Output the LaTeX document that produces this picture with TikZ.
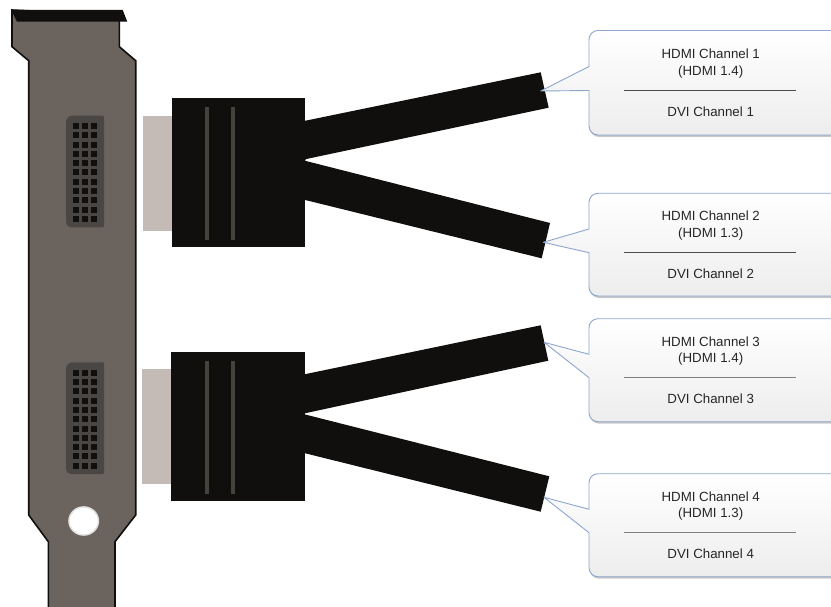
\documentclass[tikz,border=0pt]{standalone}
\usepackage{fontspec}
\setmainfont{Liberation Sans}
\definecolor{ink}{HTML}{100F0D}
\definecolor{plate}{HTML}{6B635D}
\definecolor{socketc}{HTML}{4A4643}
\definecolor{plugc}{HTML}{C4BBB6}
\definecolor{stripec}{HTML}{45423C}
\definecolor{calloutb}{HTML}{8CA6CF}
\definecolor{shadowc}{HTML}{B5B5B5}
\tikzset{
  x=1pt,y=-1pt,
  plate outline/.style={fill=plate,draw=ink,line width=1.6pt,line join=miter},
  top bar/.style={fill=ink,draw=none},
  socket body/.style={fill=socketc,draw=none},
  pin/.style={fill=ink,draw=none},
  plug/.style={fill=plugc,draw=none},
  shell/.style={fill=ink,draw=none},
  stripe/.style={fill=stripec,draw=none},
  cable/.style={fill=ink,draw=none},
  callout fill/.style={top color=white,bottom color=black!7,draw=calloutb,line width=0.9pt,line join=round},
  callout shadow/.style={fill=shadowc,draw=none,opacity=.75},
  label text/.style={font=\fontsize{13.3}{15}\selectfont,text=black!85,inner sep=0pt,anchor=center},
  divider/.style={line width=0.8pt},
}
\newcommand{\mydivcol}{black!70}
% top, bottom, wedge y1, wedge y2, tip x, tip y, channel, hdmi version, divider y
\newcommand{\mycallout}[9]{%
  \fill[callout shadow,rounded corners=9pt] (850,#1+2) -- (590,#1+2) -- (590,#2+2) -- (850,#2+2) -- cycle;
  \coordinate (tip#7) at (#5,#6);
  \path[callout fill] [rounded corners=9pt] (850,#1) -- (589,#1) [sharp corners] -- (589,#3) -- (tip#7) -- (589,#4) [rounded corners=9pt] -- (589,#2) -- (850,#2) [sharp corners] -- cycle;
  \coordinate (divl#7) at (624,#9);
  \coordinate (divr#7) at (796,#9);
  \draw[divider,draw=\mydivcol] (divl#7) -- (divr#7);
  \node[label text] (hdmi#7) at (710.7,#9-36.3) {HDMI Channel #7};
  \node[label text] (ver#7) at (710.7,#9-18.6) {(HDMI #8)};
  \node[label text] (dvi#7) at (710.7,#9+21.4) {DVI Channel #7};
}
% y offset
\newcommand{\mysocket}[1]{%
  \begin{scope}[yshift=-#1pt]
    \fill[socket body] (72,115.7) -- (102.5,115.7) .. controls (104,115.7) and (104,116.5) .. (104,118) -- (104,225.5) .. controls (104,227.3) and (103,227.3) .. (102,227.3) -- (71,227.3) .. controls (68,227.3) and (66,225) .. (66,222) -- (66,122) .. controls (66,119.5) and (68,115.7) .. (72,115.7) -- cycle;
    \foreach \r in {0,...,10}{
      \foreach \c in {73.3,82.3,91}{
        \fill[pin] (\c,123+\r*9.3) rectangle ++(6,6);
      }
    }
  \end{scope}
}
\begin{document}
\begin{tikzpicture}
\clip (0,0) rectangle (831,607);
\fill[white] (0,0) rectangle (831,607);
% bracket plate
\draw[plate outline] (12,10) -- (12,46.7) -- (28.7,60.7) -- (28.7,515) -- (48.3,541.7) -- (48.3,612) -- (115,612) -- (115,541.7) -- (135.7,515) -- (135.7,60.7) -- (119.3,46.7) -- (119.3,15) -- cycle;
\fill[top bar] (11.3,10) -- (122.7,10) -- (127.3,21.7) -- (17,21.7) -- cycle;
\mysocket{0}
\mysocket{246.7}
\fill[white!80!plate] (83.7,521) ellipse (15.5 and 14.8);
\fill[white] (83.7,521) ellipse (14 and 13.2);
% upper connector
\fill[plug] (143,116.5) rectangle (173,231);
\fill[shell] (171.7,98.4) rectangle (305,247.2);
\fill[stripe] (205,107) rectangle (209,240);
\fill[stripe] (230.7,107) rectangle (234.7,240);
\fill[cable] (304,121) -- (540.7,72.3) -- (548.7,107.7) -- (304,159.5) -- cycle;
\fill[cable] (304,160.5) -- (550,223) -- (541.7,258.3) -- (304,199.7) -- cycle;
\fill[cable] (304,158) -- (306,159.8) -- (304,161.5) -- cycle;
% lower connector
\fill[plug] (142,369.3) rectangle (172,484);
\fill[shell] (171,351.7) rectangle (304.7,501);
\fill[stripe] (205,361) rectangle (209,494.3);
\fill[stripe] (230.7,361) rectangle (234.7,494.3);
\fill[cable] (304,374.4) -- (540.7,325.3) -- (548.3,360.7) -- (304,413.5) -- cycle;
\fill[cable] (304,414.2) -- (549.3,476.3) -- (540.7,511.7) -- (304,453) -- cycle;
% callouts
\mycallout{30.5}{135}{66.5}{90.5}{540.7}{91}{1}{1.4}{90.3}
\mycallout{193.3}{296}{229}{252.7}{543.3}{242.3}{2}{1.3}{252.3}
\renewcommand{\mydivcol}{black!50}
\mycallout{318.7}{421.7}{354.3}{377.7}{544}{342.3}{3}{1.4}{377.7}
\mycallout{473.7}{576.7}{509.3}{532.7}{544}{497.3}{4}{1.3}{532.7}
\end{tikzpicture}
\end{document}
